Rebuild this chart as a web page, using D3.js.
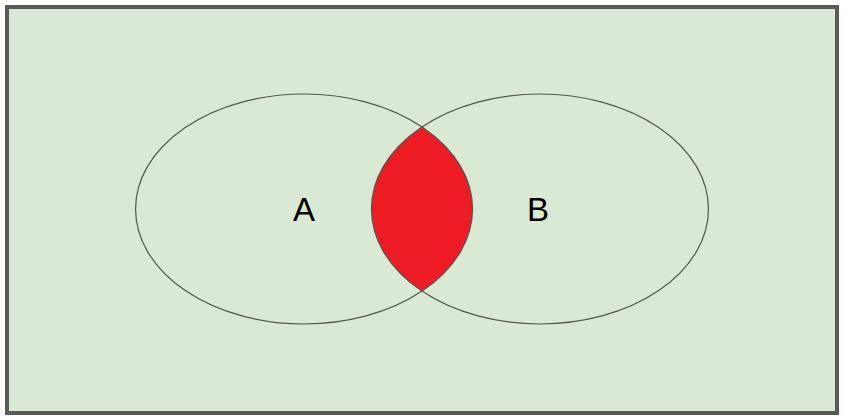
<!DOCTYPE html>
<html><head><meta charset="utf-8">
<script src="https://cdn.jsdelivr.net/npm/d3@7"></script>
<style>body{margin:0;background:#fff}</style>
</head><body>
<svg id="chart" width="845" height="420"></svg>
<script>
// sets: name, centre in data units (x), label
var setNames = ["A", "B"];
var setCentres = [-0.35, 0.35];
var setRadiusX = 0.5;
var setRadiusY = 0.5;

var svg = d3.select("#chart");

// frame
svg.append("rect").attr("x", 7).attr("y", 7).attr("width", 830).attr("height", 406)
    .attr("fill", "#d9e9d3").attr("stroke", "#595a57").attr("stroke-width", 4);

var x = d3.scaleLinear().domain([-1, 1]).range([85, 759]);
var y = d3.scaleLinear().domain([-1, 1]).range([439, -21]);
var rx = x(setRadiusX) - x(0);
var ry = y(0) - y(setRadiusY);

// intersection via clip
var defs = svg.append("defs");
defs.append("clipPath").attr("id", "clipA").append("ellipse")
    .attr("cx", x(setCentres[0])).attr("cy", y(0)).attr("rx", rx).attr("ry", ry);
svg.append("ellipse").attr("clip-path", "url(#clipA)")
    .attr("cx", x(setCentres[1])).attr("cy", y(0)).attr("rx", rx).attr("ry", ry)
    .attr("fill", "#ed1c24");

svg.selectAll("ellipse.set").data(setNames).enter().append("ellipse")
    .attr("class", "set")
    .attr("cx", (d, i) => x(setCentres[i])).attr("cy", y(0))
    .attr("rx", rx).attr("ry", ry)
    .attr("fill", "none").attr("stroke", "#55574f").attr("stroke-width", 1.2);

svg.selectAll("text.lbl").data(setNames).enter().append("text")
    .attr("class", "lbl")
    .attr("x", (d, i) => x(setCentres[i]) + (i == 0 ? 0 : -2)).attr("y", y(0) + 12)
    .attr("text-anchor", "middle")
    .attr("font-family", "Liberation Sans, Arial, sans-serif").attr("font-size", 33)
    .attr("fill", "#000").text(d => d);
</script>
</body></html>
